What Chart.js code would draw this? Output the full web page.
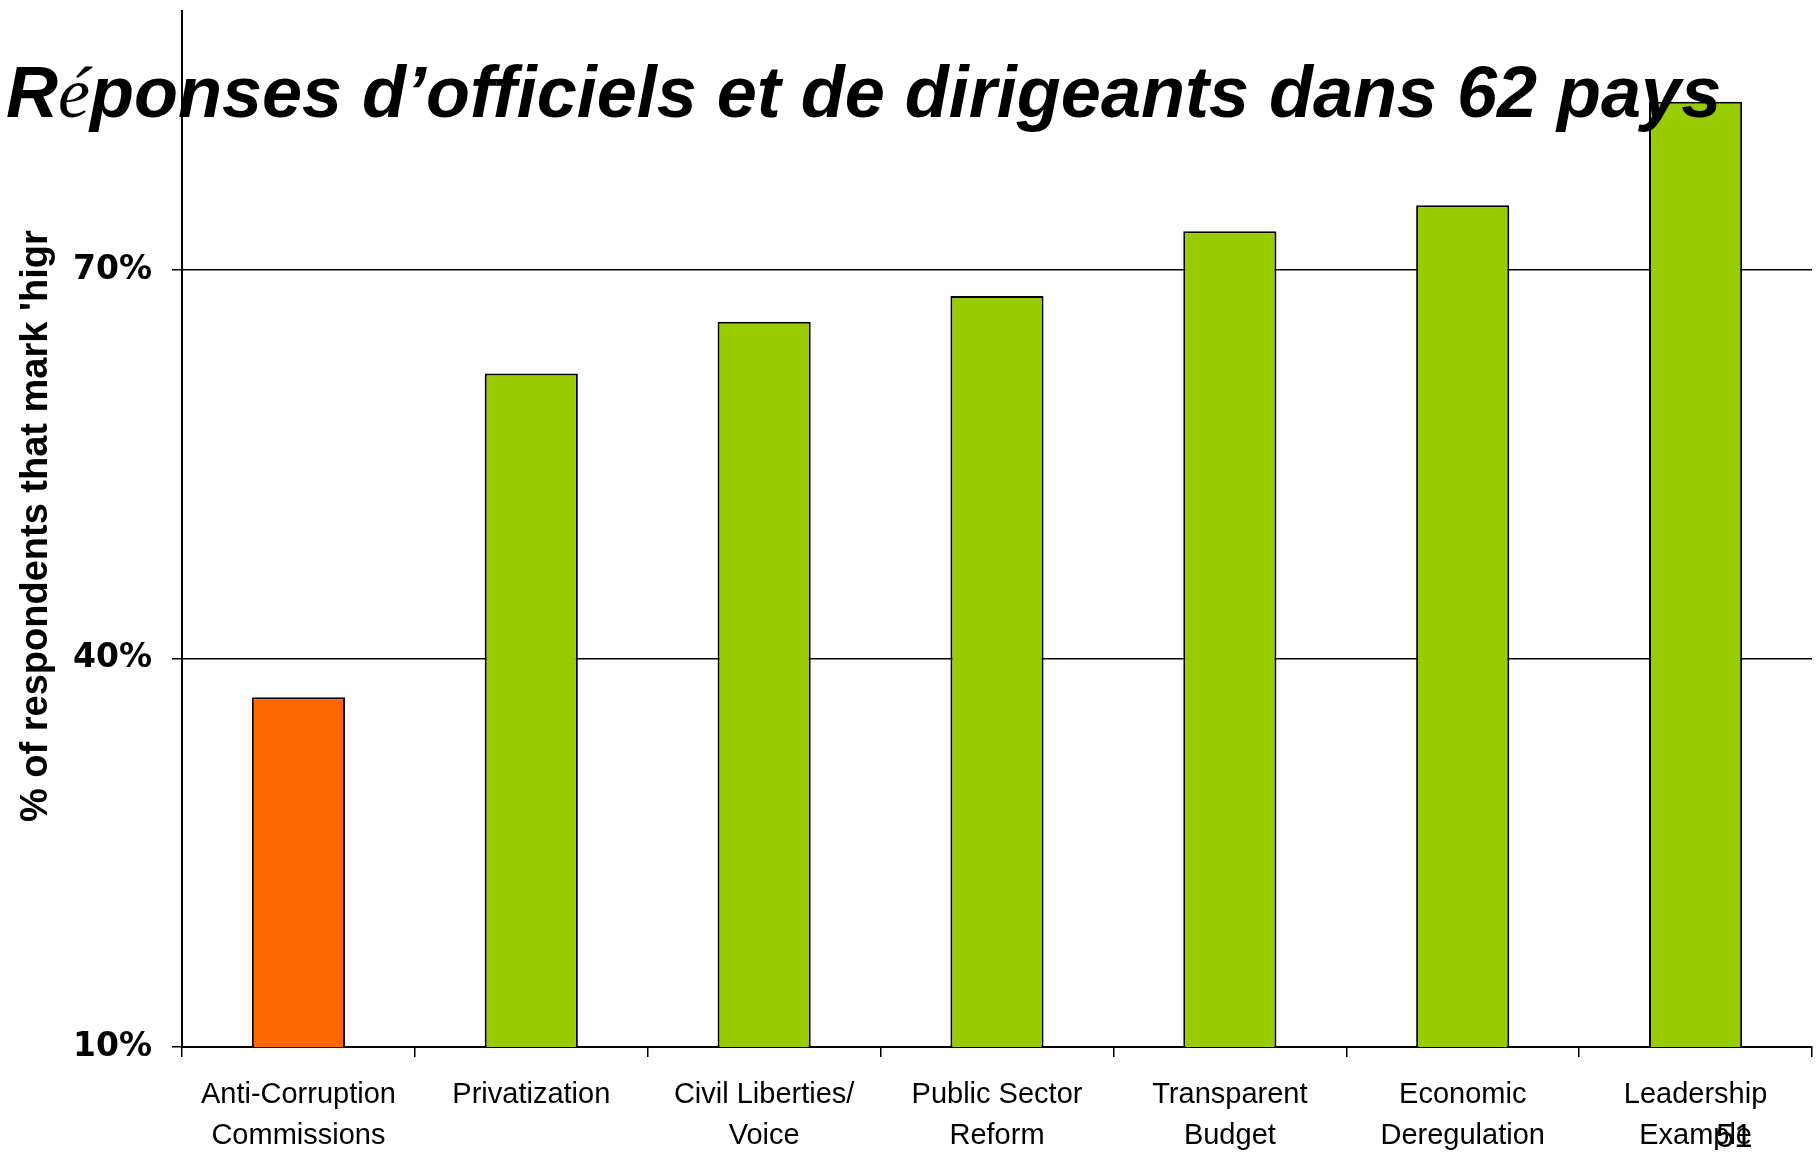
<!DOCTYPE html>
<html lang="fr">
<head>
<meta charset="utf-8">
<title>Réponses d’officiels et de dirigeants dans 62 pays</title>
<script src="https://cdn.jsdelivr.net/npm/chart.js@4"></script>
<style>
  html, body { margin: 0; padding: 0; background: #fff; overflow: hidden; }
  #page { position: relative; width: 1818px; height: 1152px; }
  #graphique { position: absolute; left: 0; top: 0; }
  .texte { position: absolute; color: #000; white-space: nowrap; line-height: 1; }
  #titre {
    left: 6px; top: 51px; font: italic bold 72px "Liberation Sans", Arial, sans-serif;
    z-index: 2;
  }
  #titre .serif { font-family: "Liberation Serif", "Times New Roman", serif; font-weight: normal; }
  #titreY {
    left: 13px; top: 822px; font: bold 38px "Liberation Sans", Arial, sans-serif;
    transform-origin: 0 0; transform: rotate(-90deg);
  }
  #numero { left: 1716px; top: 1117px; font: 33px "Liberation Sans", Arial, sans-serif; z-index: 2; }
</style>
</head>
<body>
<div id="page">
  <canvas id="graphique" width="1818" height="1152"></canvas>
  <div id="titre" class="texte">R<span class="serif">é</span>ponses d’officiels et de dirigeants dans 62 pays</div>
  <div id="titreY" class="texte">% of respondents that mark 'higr</div>
  <div id="numero" class="texte">51</div>
</div>
<script>
// Données
const categories = [
    ['Anti-Corruption', 'Commissions'],
    ['Privatization'],
    ['Civil Liberties/', 'Voice'],
    ['Public Sector', 'Reform'],
    ['Transparent', 'Budget'],
    ['Economic', 'Deregulation'],
    ['Leadership', 'Example']
];
const pourcentages = [37, 62, 66, 68, 73, 75, 83];
const couleursBarres = ['#FF6600', '#99CC00', '#99CC00', '#99CC00', '#99CC00', '#99CC00', '#99CC00'];
const ticksY = [10, 40, 70];
const minY = 10;
const maxY = 90;

const ctx = document.getElementById('graphique').getContext('2d');

new Chart(ctx, {
    type: 'bar',
    data: {
        labels: categories,
        datasets: [{
            data: pourcentages,
            backgroundColor: couleursBarres,
            borderColor: '#000',
            borderWidth: 2,
            borderSkipped: 'bottom',
            barPercentage: 0.4,
            categoryPercentage: 1.0
        }]
    },
    options: {
        responsive: false,
        animation: false,
        devicePixelRatio: 1,
        layout: { padding: { top: 11, right: 6, left: 0, bottom: 0 } },
        plugins: {
            legend: { display: false },
            tooltip: { enabled: false }
        },
        scales: {
            x: {
                grid: {
                    offset: true,
                    drawOnChartArea: false,
                    color: '#000',
                    lineWidth: 1.5,
                    tickLength: 10
                },
                border: { display: true, color: '#000', width: 2 },
                ticks: {
                    color: '#000',
                    font: { family: '"Liberation Sans", Arial, sans-serif', size: 29, lineHeight: 1.4 },
                    padding: 18,
                    maxRotation: 0,
                    autoSkip: false
                },
                afterFit: (scale) => {
                    scale.height = 105;
                    scale.paddingLeft = 0;
                    scale.paddingRight = 0;
                }
            },
            y: {
                min: minY,
                max: maxY,
                afterBuildTicks: (scale) => {
                    scale.ticks = ticksY.map(v => ({ value: v }));
                },
                grid: {
                    color: '#000',
                    lineWidth: 1.5,
                    tickLength: 10
                },
                border: { display: true, color: '#000', width: 2 },
                ticks: {
                    color: '#000',
                    font: { family: '"DejaVu Sans", Verdana, sans-serif', size: 33, weight: 'bold' },
                    padding: 20,
                    callback: (v) => v + '%'
                },
                afterFit: (scale) => {
                    scale.width = 182;
                    // pas de marge réservée pour les étiquettes en haut/bas
                    scale.paddingTop = 0;
                    scale.paddingBottom = 0;
                }
            }
        }
    }
});
</script>
</body>
</html>
